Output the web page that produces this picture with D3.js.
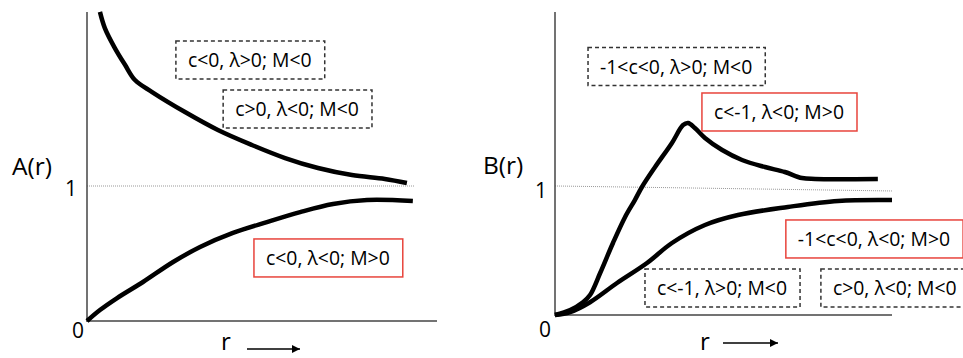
<!DOCTYPE html>
<html>
<head>
<meta charset="utf-8">
<script src="https://cdn.jsdelivr.net/npm/d3@7"></script>
<style>
  body { margin: 0; background: #fff; }
  svg { display: block; font-family: "Open Sans", Lato, sans-serif; }
</style>
</head>
<body>
<svg id="chart" width="963" height="358"></svg>
<script>
// curves, [r, value] in axis units
var upperA = [[0.037, 2.29], [0.051, 2.17], [0.08, 2.02], [0.109, 1.896], [0.137, 1.785],
    [0.186, 1.696], [0.28, 1.548], [0.374, 1.415], [0.471, 1.304], [0.566, 1.207],
    [0.66, 1.133], [0.757, 1.081], [0.851, 1.052], [0.914, 1.022]];
var lowerA = [[0, 0], [0.037, 0.081], [0.086, 0.17], [0.16, 0.289], [0.246, 0.437],
    [0.323, 0.548], [0.417, 0.652], [0.514, 0.733], [0.609, 0.807], [0.703, 0.867],
    [0.8, 0.896], [0.931, 0.889]];
var refA = [[0, 1], [0.937, 1]];

var upperB = [[0, 0], [0.045, 0.039], [0.083, 0.10], [0.104, 0.156], [0.134, 0.328],
    [0.172, 0.5625], [0.208, 0.766], [0.237, 0.898], [0.258, 1.0], [0.297, 1.156],
    [0.347, 1.344], [0.38, 1.484], [0.395, 1.5], [0.415, 1.461], [0.445, 1.383],
    [0.496, 1.289], [0.555, 1.211], [0.623, 1.156], [0.682, 1.117], [0.733, 1.07],
    [0.772, 1.063], [0.958, 1.063]];
var lowerB = [[0, 0], [0.045, 0.023], [0.104, 0.10], [0.184, 0.25], [0.273, 0.406],
    [0.347, 0.5625], [0.445, 0.703], [0.543, 0.781], [0.691, 0.844], [0.84, 0.891],
    [1.0, 0.898]];
var refB = [[0, 1.008], [1, 0.969]];

// boxed labels: text, left edge r, centre value, kind
var labelsA = [
    ["c<0, \u03bb>0; M<0", 0.254, 1.933, "dash"],
    ["c>0, \u03bb<0; M<0", 0.389, 1.570, "dash"],
    ["c<0, \u03bb<0; M>0", 0.477, 0.467, "red"]
];
var labelsB = [
    ["-1<c<0, \u03bb>0; M<0", 0.098, 1.941, "dash"],
    ["c<-1, \u03bb<0; M>0", 0.436, 1.586, "red"],
    ["-1<c<0, \u03bb<0; M>0", 0.685, 0.594, "red"],
    ["c<-1, \u03bb>0; M<0", 0.267, 0.211, "dash"],
    ["c>0, \u03bb<0; M<0", 0.789, 0.211, "dash"]
];

var panels = [
    { name: "A(r)", x0: 87, x1: 437, y0: 321, unit: 135, top: 12,
      curves: [upperA, lowerA], ref: refA, labels: labelsA,
      title: [12, 175], one: [65, 196], zero: [72, 338], r: [221, 350], arrow: [247, 300, 349] },
    { name: "B(r)", x0: 555, x1: 892, y0: 315, unit: 128, top: 12,
      curves: [upperB, lowerB], ref: refB, labels: labelsB,
      title: [483, 174], one: [535, 198], zero: [539, 337], r: [700, 350], arrow: [723, 778, 343] }
];

var svg = d3.select("#chart");

svg.append("defs").append("marker")
    .attr("id", "head")
    .attr("viewBox", "0 0 10 10")
    .attr("refX", 10).attr("refY", 5)
    .attr("markerWidth", 10).attr("markerHeight", 8)
    .attr("markerUnits", "userSpaceOnUse")
    .attr("orient", "auto")
  .append("path")
    .attr("d", "M0,0L10,5L0,10Z")
    .attr("fill", "#000");

panels.forEach(function(p) {
    var x = d3.scaleLinear().domain([0, 1]).range([p.x0, p.x1]);
    var y = d3.scaleLinear().domain([0, 1]).range([p.y0, p.y0 - p.unit]);
    var g = svg.append("g");

    // reference line at 1
    g.append("path")
        .attr("d", d3.line().x(function(d) { return x(d[0]); }).y(function(d) { return y(d[1]); })(p.ref))
        .attr("fill", "none")
        .attr("stroke", "#999")
        .attr("stroke-width", 1)
        .attr("stroke-dasharray", "1,1");

    // axes
    g.append("line")
        .attr("x1", x(0)).attr("x2", x(0))
        .attr("y1", p.top).attr("y2", y(0) + 1)
        .attr("stroke", "#444").attr("stroke-width", 1.5);
    g.append("line")
        .attr("x1", x(0)).attr("x2", x(1))
        .attr("y1", y(0)).attr("y2", y(0))
        .attr("stroke", "#444").attr("stroke-width", 1.5);

    var line = d3.line()
        .x(function(d) { return x(d[0]); })
        .y(function(d) { return y(d[1]); })
        .curve(d3.curveCatmullRom.alpha(0.5));

    g.selectAll(".curve").data(p.curves).enter().append("path")
        .attr("class", "curve")
        .attr("d", line)
        .attr("fill", "none")
        .attr("stroke", "#000")
        .attr("stroke-width", 4.5)
        .attr("stroke-linecap", "butt")
        .attr("stroke-linejoin", "round");

    // text
    g.append("text").attr("x", p.title[0]).attr("y", p.title[1])
        .attr("font-size", 24.5).text(p.name);
    g.append("text").attr("x", p.one[0]).attr("y", p.one[1])
        .attr("font-size", 21).text("1");
    g.append("text").attr("x", p.zero[0]).attr("y", p.zero[1])
        .attr("font-size", 21).text("0");
    g.append("text").attr("x", p.r[0]).attr("y", p.r[1])
        .attr("font-size", 24).text("r");
    g.append("line")
        .attr("x1", p.arrow[0]).attr("x2", p.arrow[1])
        .attr("y1", p.arrow[2]).attr("y2", p.arrow[2])
        .attr("stroke", "#000").attr("stroke-width", 1.5)
        .attr("marker-end", "url(#head)");

    // boxed labels
    var lab = g.selectAll(".lab").data(p.labels).enter().append("g").attr("class", "lab");
    lab.append("text")
        .attr("x", function(d) { return x(d[1]) + 12; })
        .attr("y", function(d) { return y(d[2]) + 7; })
        .attr("font-size", 19.4)
        .text(function(d) { return d[0]; });
    lab.insert("rect", "text")
        .attr("x", function(d) { return x(d[1]); })
        .attr("y", function(d) { return y(d[2]) - 19; })
        .attr("width", function() { return this.parentNode.querySelector("text").getComputedTextLength() + 25; })
        .attr("height", 38)
        .attr("fill", "#fff")
        .attr("stroke", function(d) { return d[3] === "red" ? "#e8443c" : "#333"; })
        .attr("stroke-width", 1.5)
        .attr("stroke-dasharray", function(d) { return d[3] === "red" ? null : "4,3"; });
});
</script>
</body>
</html>
